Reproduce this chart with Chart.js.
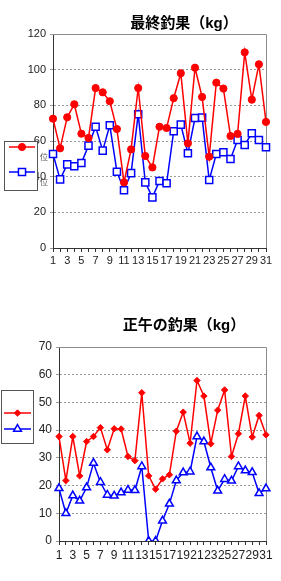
<!DOCTYPE html>
<html>
<head>
<meta charset="utf-8">
<script src="https://cdn.jsdelivr.net/npm/chart.js@4/dist/chart.umd.min.js"></script>
<style>
  body { margin: 0; background: #fff; width: 281px; height: 581px; overflow: hidden; }
  canvas { position: absolute; left: 0; }
  #finalChart { top: 0; }
  #noonChart { top: 290px; }
</style>
</head>
<body>
<canvas id="finalChart" width="281" height="290"></canvas>
<canvas id="noonChart" width="281" height="291"></canvas>
<script>
// days of the month
const days = ["1","2","3","4","5","6","7","8","9","10","11","12","13","14","15","16",
              "17","18","19","20","21","22","23","24","25","26","27","28","29","30","31"];

// 最終釣果 (kg)
const finalRed  = [72.5, 55.9, 73.3, 80.6, 64.1, 61.7, 89.7, 87.3, 82.3, 66.7, 36.8, 55.3, 89.7, 51.6, 45.2, 68.0,
                   67.3, 84.0, 98.0, 58.7, 101.1, 84.7, 51.2, 92.7, 89.4, 62.8, 64.0, 109.7, 83.2, 103.0, 70.7];
const finalBlue = [52.7, 38.5, 46.9, 45.8, 47.7, 57.4, 68.0, 54.6, 68.8, 42.8, 32.4, 42.0, 75.0, 36.8, 28.4, 37.6,
                   36.3, 65.5, 69.2, 53.1, 72.9, 73.1, 38.1, 52.7, 53.7, 49.9, 60.6, 57.8, 64.3, 60.6, 56.5];

// 正午の釣果 (kg)
const noonRed  = [37.7, 21.8, 37.7, 23.5, 35.9, 37.7, 40.9, 32.9, 40.5, 40.4, 30.5, 29.0, 53.5, 23.5, 18.7, 22.4,
                  23.9, 39.6, 46.5, 35.3, 57.9, 52.3, 35.1, 47.2, 54.5, 30.5, 38.7, 52.3, 37.5, 45.3, 38.3];
const noonBlue = [19.0, 10.0, 16.4, 14.5, 19.3, 28.1, 21.2, 16.6, 16.3, 17.5, 18.4, 18.3, 26.9, 0, 0, 7.3,
                  13.4, 21.8, 24.7, 25.0, 37.7, 35.9, 26.5, 18.1, 22.3, 21.7, 26.9, 25.4, 24.8, 17.2, 18.9];

const RED = '#ff0000';
const BLUE = '#0000ff';
const FONT = '"Liberation Sans", Arial, sans-serif';

// title drawn at fixed spot above the plot
function titlePlugin(text, y) {
    return {
        id: 'fixedTitle',
        afterDraw(chart) {
            const ctx = chart.ctx;
            ctx.save();
            ctx.font = 'bold 15px "Liberation Sans", "Noto Sans CJK JP", sans-serif';
            ctx.fillStyle = '#000';
            ctx.textAlign = 'center';
            ctx.textBaseline = 'middle';
            ctx.fillText(text, 184, y);
            ctx.restore();
        }
    };
}

// grey frame on top and right of the plot area
const framePlugin = {
    id: 'frame',
    beforeDatasetsDraw(chart) {
        const a = chart.chartArea;
        const ctx = chart.ctx;
        ctx.save();
        ctx.strokeStyle = '#8c8c8c';
        ctx.lineWidth = 1;
        ctx.beginPath();
        ctx.moveTo(a.left, a.top + 0.5);
        ctx.lineTo(a.right + 0.5, a.top + 0.5);
        ctx.lineTo(a.right + 0.5, a.bottom);
        ctx.stroke();
        ctx.restore();
    }
};

// small boxed legend at the left, over the axis labels
function legendPlugin(box, rows, extraText) {
    return {
        id: 'boxLegend',
        afterDraw(chart) {
            const ctx = chart.ctx;
            ctx.save();
            ctx.fillStyle = '#fff';
            ctx.strokeStyle = '#555';
            ctx.lineWidth = 1;
            ctx.fillRect(box.x, box.y, box.w, box.h);
            ctx.strokeRect(box.x + 0.5, box.y + 0.5, box.w, box.h);
            rows.forEach((r, i) => {
                const ds = chart.data.datasets[i];
                ctx.strokeStyle = ds.borderColor;
                ctx.lineWidth = 1.5;
                ctx.beginPath();
                ctx.moveTo(r.x1, r.y);
                ctx.lineTo(r.x2, r.y);
                ctx.stroke();
                ctx.fillStyle = ds.pointBackgroundColor;
                ctx.strokeStyle = ds.borderColor;
                ctx.lineWidth = ds.pointBorderWidth;
                Chart.helpers.drawPoint(ctx, {
                    pointStyle: ds.pointStyle,
                    radius: ds.pointRadius,
                    borderWidth: ds.pointBorderWidth
                }, (r.x1 + r.x2) / 2, r.y);
            });
            if (extraText) {
                ctx.fillStyle = '#555';
                ctx.font = '8px "Noto Sans CJK JP", sans-serif';
                ctx.textBaseline = 'middle';
                extraText.forEach(t => ctx.fillText(t.text, t.x, t.y));
            }
            ctx.restore();
        }
    };
}

function buildOptions(yMax, yStep, yWidth, padTop, padBottom, tickFont, xPad) {
    return {
        responsive: false,
        animation: false,
        devicePixelRatio: 1,
        layout: { padding: { top: padTop, right: 15, bottom: padBottom, left: 0 } },
        plugins: { legend: { display: false }, title: { display: false }, tooltip: { enabled: false } },
        scales: {
            x: {
                offset: false,
                grid: { drawOnChartArea: false, color: '#333', tickLength: 4 },
                border: { color: '#333', width: 1 },
                ticks: {
                    autoSkip: false, maxRotation: 0, minRotation: 0, padding: xPad,
                    color: '#222', font: { family: FONT, size: tickFont },
                    callback: function(value, index) { return index % 2 === 0 ? this.getLabelForValue(value) : ''; }
                },
                afterFit(scale) { scale.height = 20; }
            },
            y: {
                min: 0, max: yMax,
                grid: { color: '#9a9a9a', tickLength: 3 },
                border: { color: '#333', width: 1, dash: [2, 2] },
                ticks: { stepSize: yStep, padding: 4, color: '#222', font: { family: FONT, size: tickFont } },
                afterFit(scale) { scale.width = yWidth; }
            }
        }
    };
}

new Chart(document.getElementById('finalChart'), {
    type: 'line',
    data: {
        labels: days,
        datasets: [{
            data: finalRed,
            borderColor: RED, borderWidth: 1.5,
            pointStyle: 'circle', pointRadius: 3.6, pointBorderWidth: 1,
            pointBackgroundColor: RED, pointBorderColor: RED,
            tension: 0
        }, {
            data: finalBlue,
            borderColor: BLUE, borderWidth: 1.5,
            pointStyle: 'rect', pointRadius: 5, pointBorderWidth: 1.5,
            pointBackgroundColor: '#fff', pointBorderColor: BLUE,
            tension: 0
        }]
    },
    options: buildOptions(120, 20, 53, 34, 22, 11, 2),
    plugins: [
        titlePlugin('最終釣果（kg）', 24),
        framePlugin,
        legendPlugin({ x: 4, y: 141, w: 33, h: 49 },
            [{ x1: 9, x2: 35, y: 147 }, { x1: 9, x2: 35, y: 172 }],
            [{ text: '位', x: 40, y: 157 }, { text: '位', x: 40, y: 182 }])
    ]
});

new Chart(document.getElementById('noonChart'), {
    type: 'line',
    data: {
        labels: days,
        datasets: [{
            data: noonRed,
            borderColor: RED, borderWidth: 1.5,
            pointStyle: 'rectRot', pointRadius: 3.2, pointBorderWidth: 1,
            pointBackgroundColor: RED, pointBorderColor: RED,
            tension: 0
        }, {
            data: noonBlue,
            borderColor: BLUE, borderWidth: 1.5,
            pointStyle: 'triangle', pointRadius: 4.5, pointBorderWidth: 1.5,
            pointBackgroundColor: '#fff', pointBorderColor: BLUE,
            tension: 0
        }]
    },
    options: buildOptions(70, 10, 59, 57, 20, 12, 3),
    plugins: [
        titlePlugin('正午の釣果（kg）', 36),
        framePlugin,
        legendPlugin({ x: 1, y: 100, w: 32, h: 53 },
            [{ x1: 4, x2: 31, y: 123 }, { x1: 4, x2: 31, y: 139 }])
    ]
});
</script>
</body>
</html>
